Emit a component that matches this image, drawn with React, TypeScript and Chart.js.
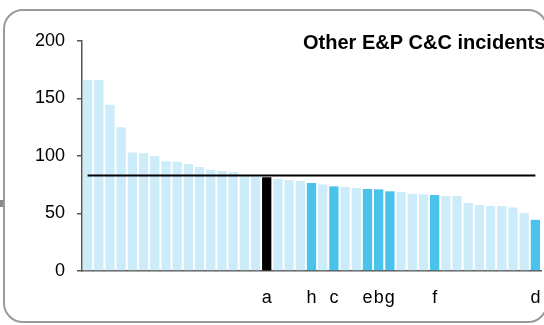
import React, { useEffect, useRef } from "react";
import { Chart, registerables } from "chart.js";

Chart.register(...registerables);

const categories: string[] = [
  "", "", "", "", "", "", "", "", "", "",
  "", "", "", "", "", "", "a", "", "", "",
  "h", "", "c", "", "", "e", "b", "g", "", "",
  "", "f", "", "", "", "", "", "", "", "",
  "d",
];

const incidents: number[] = [
  166, 166, 144.5, 125, 103, 102.5, 100, 95.5, 95, 93,
  90.5, 88, 87, 86, 82, 81.7, 81.5, 80, 79, 78.3,
  76.5, 75.3, 73.6, 73, 72.2, 71.3, 71, 69.3, 68.7, 67.2,
  66.7, 66.1, 65.2, 65.2, 59.1, 57.4, 56.5, 56.5, 55.3, 50.3,
  44.5,
];

const averageValue = 83;
const averageLine: number[] = categories.map(() => averageValue);

const titleText = "Other E&P C&C incidents";
const yTicks: number[] = [0, 50, 100, 150, 200];

const LIGHT = "#CDECF9";
const DARK = "#4AC3EC";
const BLACK = "#000000";

const barColors = categories.map((c) => (c === "a" ? BLACK : c !== "" ? DARK : LIGHT));

const FONT = "'Liberation Sans', Arial, Helvetica, sans-serif";

const titlePlugin = {
  id: "cornerTitle",
  afterDraw(chart: any) {
    const ctx = chart.ctx;
    ctx.save();
    ctx.font = `bold 20px ${FONT}`;
    ctx.fillStyle = "#000";
    ctx.textAlign = "left";
    ctx.textBaseline = "alphabetic";
    ctx.fillText(titleText, 303, 49);
    ctx.restore();
  },
};

export default function App() {
  const ref = useRef<HTMLCanvasElement | null>(null);

  useEffect(() => {
    if (!ref.current) return;
    const chart = new Chart(ref.current, {
      type: "bar",
      data: {
        labels: categories,
        datasets: [
          {
            type: "line",
            data: averageLine,
            borderColor: "#000",
            borderWidth: 2,
            pointRadius: 0,
            fill: false,
            order: 0,
          } as any,
          {
            type: "bar",
            data: incidents,
            backgroundColor: barColors,
            borderWidth: 0,
            barPercentage: 0.83,
            categoryPercentage: 1,
            order: 1,
          },
        ],
      },
      options: {
        responsive: false,
        animation: false,
        layout: { padding: { left: 0, right: 3, top: 41, bottom: 0 } },
        plugins: {
          legend: { display: false },
          tooltip: { enabled: false },
          title: { display: false },
        },
        scales: {
          x: {
            afterFit: (s: any) => {
              s.height = 54;
              s.paddingLeft = 0;
              s.paddingRight = 0;
            },
            grid: { display: true, drawOnChartArea: false, drawTicks: false },
            border: { display: true, color: "#555", width: 1.5 },
            ticks: {
              autoSkip: false,
              maxRotation: 0,
              minRotation: 0,
              padding: 16,
              color: "#000",
              font: { family: FONT, size: 18 },
            },
          },
          y: {
            min: 0,
            max: 200,
            afterFit: (s: any) => {
              s.width = 82;
              s.paddingTop = 0;
              s.paddingBottom = 0;
            },
            afterBuildTicks: (s: any) => {
              s.ticks = yTicks.map((v) => ({ value: v }));
            },
            grid: {
              display: true,
              drawOnChartArea: false,
              drawTicks: true,
              tickLength: 5,
              color: "#555",
              lineWidth: 1.5,
            },
            border: { display: true, color: "#555", width: 1.5 },
            ticks: {
              padding: 12,
              color: "#000",
              font: { family: FONT, size: 18 },
            },
          },
        },
      },
      plugins: [titlePlugin],
    });
    return () => chart.destroy();
  }, []);

  return (
    <div
      style={{
        position: "absolute",
        left: 0,
        top: 0,
        width: 544,
        height: 325,
        overflow: "hidden",
        background: "#fff",
      }}
    >
      <div
        style={{
          position: "absolute",
          left: 3,
          top: 9,
          width: 545,
          height: 314,
          boxSizing: "border-box",
          border: "2px solid #9a9a9a",
          borderRadius: 20,
        }}
      />
      <div
        style={{
          position: "absolute",
          left: 0,
          top: 200,
          width: 3,
          height: 7,
          background: "#8a8a8a",
        }}
      />
      <canvas
        ref={ref}
        width={544}
        height={325}
        style={{ position: "absolute", left: 0, top: 0 }}
      />
    </div>
  );
}
